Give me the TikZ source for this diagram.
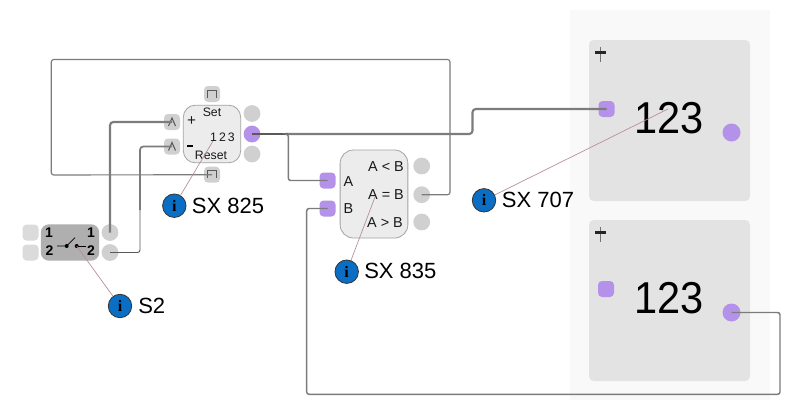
\documentclass[tikz,border=0pt]{standalone}
\usepackage{fontspec}
\setmainfont{Liberation Sans}
\newfontfamily\infofont{Liberation Serif}
\definecolor{panelbg}{HTML}{F9F9F9}
\definecolor{dispbg}{HTML}{E3E3E3}
\definecolor{blockbg}{HTML}{ECECEC}
\definecolor{blockedge}{HTML}{A3A3A3}
\definecolor{portgray}{HTML}{D0D0D0}
\definecolor{portlight}{HTML}{DBDBDB}
\definecolor{purp}{HTML}{B592EA}
\definecolor{switchbg}{HTML}{AFAFAF}
\definecolor{wirec}{HTML}{7C7C7C}
\definecolor{wiredark}{HTML}{5A5A5A}
\definecolor{infoblue}{HTML}{0B6EC5}
\definecolor{leader}{HTML}{B58E95}
\tikzset{
  x=0.75pt,y=-0.75pt,
  display/.style={fill=dispbg,rounded corners=3.5pt,minimum width=120.75pt,minimum height=120.75pt,inner sep=0pt},
  sqport/.style={fill=#1,rounded corners=3pt,minimum size=12pt,inner sep=0pt},
  rdport/.style={circle,fill=#1,minimum size=12.6pt,inner sep=0pt},
  block/.style={draw=blockedge,line width=0.6pt,fill=blockbg,inner sep=0pt},
  wire/.style={draw=wirec,line width=0.85pt,rounded corners=1.8pt},
  wirethick/.style={draw=wirec,line width=1.6pt,rounded corners=2.5pt},
  wirethin/.style={draw=wiredark,line width=0.7pt,rounded corners=1.8pt},
  leaderline/.style={draw=leader,line width=0.5pt},
  infoi/.style={circle,draw=black!80,line width=0.6pt,fill=infoblue,minimum size=17.6pt,inner sep=0pt,
    font=\infofont\bfseries\fontsize{12}{12}\selectfont,text=black},
  infolabel/.style={anchor=west,inner sep=0pt,font=\fontsize{16.5}{18}\selectfont,text=black},
  small/.style={inner sep=0pt,font=\fontsize{9.2}{10}\selectfont,text=black!90},
  cmp/.style={inner sep=0pt,font=\fontsize{10.8}{12}\selectfont,text=black!90},
  swnum/.style={inner sep=0pt,font=\bfseries\fontsize{10.5}{12}\selectfont,text=black},
  bignum/.style={inner sep=0pt,font=\fontsize{33.5}{36}\selectfont,text=black},
  glyph/.style={draw=black!65,line width=0.8pt},
  swline/.style={draw=black,line width=0.55pt},
  swdot/.style={circle,fill=black,minimum size=3pt,inner sep=0pt},
}
\begin{document}
\begin{tikzpicture}
\useasboundingbox (0,0) rectangle (800,412);
\fill[white] (0,0) rectangle (800,412);
\fill[panelbg] (570,10) rectangle (770,400);

% displays
\node[display] (d1) at (669.5,120.5) {};
\node[display] (d2) at (669.5,300.5) {};
\node[bignum] (d1t) at (669,118.5) {\scalebox{.93}[1]{123}};
\node[bignum] (d2t) at (669,298.5) {\scalebox{.93}[1]{123}};
\node[sqport=purp] (d1in) at (606.5,109) {};
\node[sqport=purp] (d2in) at (606,289) {};
\node[rdport=purp,minimum size=13.5pt] (d1out) at (731.5,132.5) {};
\node[rdport=purp,minimum size=13.5pt] (d2out) at (731.5,312.5) {};
\foreach \yy in {52,232}{
  \draw[black!55,line width=0.5pt] (600,\yy-5) -- (600,\yy+10);
  \fill[black!85] (595,\yy-1.5) rectangle (605.5,\yy+1.5);
}

% SX 825
\node[block,rounded corners=9pt,minimum width=43pt,minimum height=43.2pt] (cnt) at (212,134) {};
\node[small] at (212,112.5) {Set};
\node[small,font=\fontsize{11.5}{12}\selectfont] (plus) at (191.5,121.5) {+};
\node[small] (cntv) at (222.5,137) {1\,2\,3};
\node[small] at (211,155) {Reset};
\fill[black] (186.5,145) rectangle (193,147);
\node[sqport=portgray] (cnttop) at (212,94) {};
\node[sqport=portgray] (cntbot) at (212,174.7) {};
\node[sqport=portgray] (cntp) at (172,122) {};
\node[sqport=portgray] (cntm) at (172,146.5) {};
\node[rdport=portgray] (cnto1) at (252,113.5) {};
\node[rdport=purp] (cnto2) at (252,134) {};
\node[rdport=portgray] (cnto3) at (252,154) {};
\draw[glyph] (207.5,98) -- (207.5,90.5) -- (216.5,90.5) -- (216.5,98);
\draw[glyph] (207.5,178) -- (207.5,170.5) -- (216.5,170.5) -- (216.5,178);
\draw[glyph] (168.5,126) -- (172,118) -- (175.5,126);
\draw[glyph] (168.5,150.5) -- (172,142.5) -- (175.5,150.5);

% switch
\node[fill=switchbg,rounded corners=6pt,minimum width=43.7pt,minimum height=27.3pt,inner sep=0pt] (sw) at (70,242.5) {};
\node[sqport=portlight] (swi1) at (30.5,232.5) {};
\node[sqport=portlight] (swi2) at (30.5,252.5) {};
\node[rdport=portgray] (swo1) at (110,232.5) {};
\node[rdport=portgray] (swo2) at (110,252.5) {};
\node[swnum] at (49,233) {1};
\node[swnum] at (49.5,251) {2};
\node[swnum] at (91,233) {1};
\node[swnum] at (91,251) {2};
\node[swdot] (swa) at (66.7,246) {};
\node[swdot] (swb) at (76.7,246) {};
\draw[swline] (57,246) -- (swa.center) -- (75,237.7);
\draw[swline] (swb.center) -- (85.7,246);

% SX 835
\node[block,rounded corners=10pt,minimum width=50.8pt,minimum height=66pt] (cmpb) at (374,194) {};
\node[cmp] at (386,166.5) {A {<} B};
\node[cmp] at (386,195) {A = B};
\node[cmp] at (385,223) {A > B};
\node[cmp] at (348.5,181.5) {A};
\node[cmp] at (348.5,209) {B};
\node[sqport=purp] (cmpa) at (327.5,180.5) {};
\node[sqport=purp] (cmpbin) at (327.5,208.5) {};
\node[rdport=portgray] (cmpo1) at (421.7,166) {};
\node[rdport=portgray] (cmpo2) at (421.7,194.7) {};
\node[rdport=portgray] (cmpo3) at (421.7,222) {};

% wires
\draw[wirethick] (swo1.center) -- (110,122) -- (cntp.center);
\draw[wirethin] (swo2.center) -- (140,252.5) -- (140,200);
\draw[wirethick,line width=1.3pt] (140,210) -- (140,146.5) -- (cntm.center);
\draw[wire] (cmpo2.center) -- (450,194.7) -- (450,59.5) -- (51.3,59.5) -- (51.3,175) -- (cntbot.center);
\draw[wirethick] (285,134) -- (472.5,134) -- (472.5,109) -- (d1in.center);
\draw[wirethick,draw=wiredark] (cnto2.center) -- (288,134);
\draw[wire,line width=1.1pt] (286,134) -- (288.3,134) -- (288.3,180.5) -- (cmpa.center);
\draw[wire,line width=1.1pt] (d2out.center) -- (780,312.5) -- (780,394.3) -- (306.7,394.3) -- (306.7,208.5) -- (cmpbin.center);

% info markers
\node[infoi] (i825) at (174.3,205.7) {i};
\node[infolabel] (l825) at (191.7,205.5) {SX 825};
\node[infoi] (i835) at (346.7,271.7) {i};
\node[infolabel] (l835) at (364,271) {SX 835};
\node[infoi] (i707) at (484,200.3) {i};
\node[infolabel] (l707) at (501.7,200) {SX 707};
\node[infoi] (i2) at (120,306) {i};
\node[infolabel] (l2) at (138,306) {S2};
\coordinate (t825) at (213,141);
\coordinate (t835) at (375,197);
\coordinate (t707) at (668,109);
\draw[leaderline] (i825) -- (t825);
\draw[leaderline] (i835) -- (t835);
\draw[leaderline] (i707) -- (t707);
\draw[leaderline] (i2) -- (swb.center);
\end{tikzpicture}
\end{document}
